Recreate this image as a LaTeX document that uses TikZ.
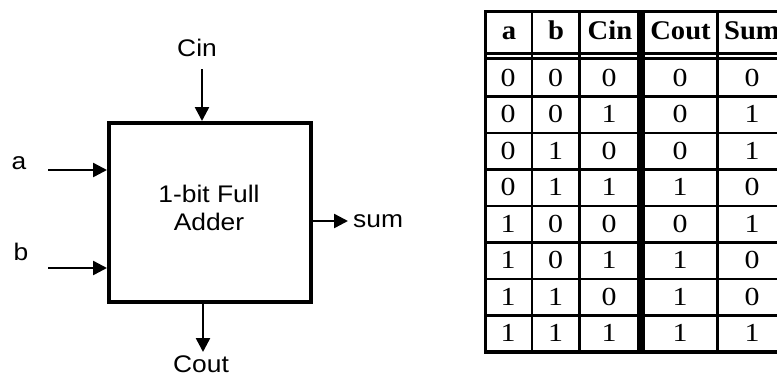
\documentclass[tikz,border=0pt]{standalone}
\usepackage{fontspec}
\usepackage{graphicx}
\setmainfont{Liberation Serif}
\setsansfont{Liberation Sans}
\usetikzlibrary{arrows.meta}
\newcommand{\sx}[1]{\scalebox{1.1}[1]{#1}}
\newcommand{\tx}[1]{\scalebox{1.15}[1]{#1}}
\newcommand{\hx}[1]{\scalebox{1.06}[1]{#1}}
\tikzset{
  sanslbl/.style={font=\sffamily\fontsize{24}{28}\selectfont, inner sep=0pt},
  wire/.style={line width=2.5pt, -{Triangle[length=14pt,width=14pt]}},
  cell/.style={font=\fontsize{26}{30}\selectfont, anchor=base, inner sep=0pt},
  headcell/.style={font=\bfseries\fontsize{27}{30}\selectfont, anchor=base, inner sep=0pt},
  rule/.style={line width=2.7pt},
}
\begin{document}
\begin{tikzpicture}[x=1pt,y=-1pt]
\useasboundingbox (0,0) rectangle (777,376);
% adder block
\node[draw, line width=4pt, minimum width=202pt, minimum height=179pt, inner sep=0pt] (fa) at (210,212.5) {};
\node[sanslbl, align=center] (falbl) at (209,208) {\sx{1-bit Full}\\\sx{Adder}};
% ports
\coordinate (cinS) at (202,69);
\coordinate (aS) at (48,170);
\coordinate (bS) at (48,268);
\coordinate (sumE) at (348,221);
\coordinate (coutE) at (203,352);
\draw[wire] (cinS) -- (cinS |- fa.north);
\draw[wire] (aS) -- (aS -| fa.west);
\draw[wire] (bS) -- (bS -| fa.west);
\draw[wire] (sumE -| fa.east) -- (sumE);
\draw[wire] (coutE |- fa.south) -- (coutE);
\node[sanslbl, anchor=base] (cin) at (197,56) {\sx{Cin}};
\node[sanslbl, anchor=base] (a) at (19,169) {\sx{a}};
\node[sanslbl, anchor=base] (b) at (21,260) {\sx{b}};
\node[sanslbl, anchor=base west] (sum) at (353,227) {\sx{sum}};
\node[sanslbl, anchor=base] (cout) at (201,372) {\sx{Cout}};
% truth table
\begin{scope}
\clip (0,0) rectangle (777,376);
\draw[line width=3.5pt] (795,11.7) -- (485.7,11.7) -- (485.7,352) -- (795,352);
\foreach \x in {532,579.7,717.3} \draw[rule] (\x,11.7) -- (\x,352);
\draw[line width=7.5pt] (641,11.7) -- (641,352);
\foreach \y in {53.5,58.5} \draw[line width=3pt] (484,\y) -- (795,\y);
\foreach \i in {1,...,7} \draw[rule] (484,60+36.5*\i) -- (795,60+36.5*\i);
\node[headcell] (h1) at (509,39) {\hx{a}};
\node[headcell] (h2) at (556,39) {\hx{b}};
\node[headcell] (h3) at (610,39) {\hx{Cin}};
\node[headcell] (h4) at (680.5,39) {\hx{Cout}};
\node[headcell] (h5) at (752,39) {\hx{Sum}};
\foreach \r/\va/\vb/\vc/\vo/\vs in {1/0/0/0/0/0, 2/0/0/1/0/1, 3/0/1/0/0/1, 4/0/1/1/1/0, 5/1/0/0/0/1, 6/1/0/1/1/0, 7/1/1/0/1/0, 8/1/1/1/1/1}{
  \pgfmathsetmacro{\yb}{60+36.5*(\r-1)+26}
  \node[cell] (d\r-1) at (508,\yb) {\tx{\va}};
  \node[cell] (d\r-2) at (555.5,\yb) {\tx{\vb}};
  \node[cell] (d\r-3) at (609,\yb) {\tx{\vc}};
  \node[cell] (d\r-4) at (680,\yb) {\tx{\vo}};
  \node[cell] (d\r-5) at (752,\yb) {\tx{\vs}};
}
\end{scope}
\end{tikzpicture}
\end{document}
